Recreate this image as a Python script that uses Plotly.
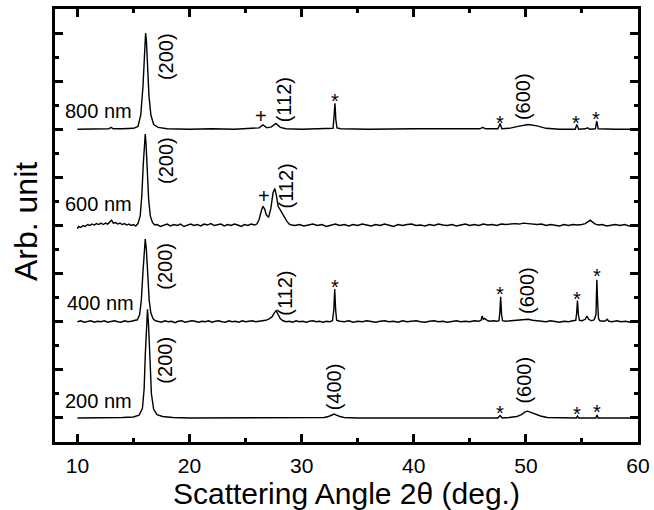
import plotly.graph_objects as go

# ---------------- data ----------------
angle_200 = [10.0, 12.0, 14.0, 15.0, 15.5, 15.8, 15.95, 16.05, 16.15, 16.25,
             16.35, 16.45, 16.6, 16.8, 17.1, 17.6, 18.5, 20.0, 25.0, 30.0,
             32.0, 32.4, 32.7, 32.9, 33.1, 33.4, 33.8, 35.0, 40.0, 45.0,
             47.5, 47.7, 47.8, 47.9, 48.5, 49.2, 49.6, 49.9, 50.15, 50.4,
             50.8, 51.3, 51.9, 53.0, 54.5, 54.6, 54.7, 55.5, 56.25, 56.35,
             56.45, 58.0, 60.0]
int_200 = [0.0, 0.0, 0.01, 0.02, 0.06, 0.2, 0.6, 1.3, 2.0, 2.26,
           1.9, 1.2, 0.5, 0.18, 0.07, 0.03, 0.01, 0.0, 0.0, 0.0,
           0.01, 0.03, 0.07, 0.08, 0.06, 0.03, 0.01, 0.0, 0.0, 0.0,
           0.0, 0.05, 0.01, 0.0, 0.01, 0.03, 0.07, 0.12, 0.14, 0.12,
           0.08, 0.04, 0.01, 0.0, 0.0, 0.04, 0.0, 0.0, 0.0, 0.06,
           0.0, 0.0, 0.0]

angle_400 = [10.0, 10.3, 10.6, 10.9, 11.2, 11.5, 11.8, 12.1, 12.4, 12.7,
             13.0, 13.3, 13.6, 13.9, 14.2, 14.5, 14.8, 15.1, 15.35,
             15.55, 15.7, 15.85, 15.95, 16.05, 16.15, 16.25, 16.4, 16.55, 16.75, 16.95,
             17.2, 17.5, 17.8, 18.1, 18.4, 18.7, 19.0, 19.3, 19.6, 19.9,
             20.2, 20.5, 20.8, 21.1, 21.4, 21.7, 22.0, 22.3, 22.6, 22.9,
             23.2, 23.5, 23.8, 24.1, 24.4, 24.7, 25.0, 25.3, 25.6, 25.9,
             26.2, 26.5, 26.8, 27.1,
             27.35, 27.55, 27.72, 27.9, 28.1, 28.35,
             28.6, 28.9, 29.2, 29.5, 29.8, 30.1, 30.4, 30.7, 31.0, 31.3,
             31.6, 31.9, 32.2, 32.5, 32.75,
             32.87, 32.95, 33.03, 33.12,
             33.4, 33.8, 34.2, 34.6, 35.0, 35.4, 35.8, 36.2, 36.6, 37.0,
             37.4, 37.8, 38.2, 38.6, 39.0, 39.4, 39.8, 40.2, 40.6, 41.0,
             41.4, 41.8, 42.2, 42.6, 43.0, 43.4, 43.8, 44.2, 44.6, 45.0,
             45.4, 45.8,
             46.0, 46.1, 46.2, 46.32, 46.45, 46.6, 46.8, 47.1, 47.4, 47.6,
             47.68, 47.75, 47.83, 47.92,
             48.2, 48.6, 49.0, 49.4, 49.8, 50.2, 50.6, 51.0, 51.4, 51.8,
             52.2, 52.6, 53.0, 53.4, 53.8, 54.2, 54.45,
             54.53, 54.6, 54.68, 54.78,
             55.0, 55.3, 55.45, 55.6, 55.85, 56.1, 56.25,
             56.33, 56.4, 56.48,
             56.6, 56.9, 57.1, 57.25, 57.4, 57.7, 58.1, 58.5, 58.9, 59.3,
             59.7, 60.0]
int_400 = [0.0, 0.02, -0.01, 0.01, 0.02, -0.01, 0.01, 0.0, 0.02, -0.01,
           0.01, 0.02, 0.0, -0.01, 0.02, 0.0, 0.01, 0.02, 0.04,
           0.15, 0.45, 1.05, 1.5, 1.72, 1.5, 1.0, 0.45, 0.18, 0.06, 0.02,
           0.01, -0.01, 0.02, 0.0, 0.01, -0.02, 0.01, 0.02, -0.01, 0.0,
           0.02, 0.01, -0.01, 0.01, 0.0, 0.02, -0.01, 0.01, 0.02, 0.0,
           -0.01, 0.02, 0.0, 0.01, -0.01, 0.02, 0.0, 0.01, 0.02, 0.0,
           0.01, 0.02, 0.03, 0.06,
           0.1, 0.18, 0.23, 0.15, 0.06, 0.02,
           0.0, 0.01, -0.01, 0.02, 0.0, 0.01, -0.01, 0.01, 0.02, 0.0,
           0.01, -0.01, 0.01, 0.0, 0.02,
           0.25, 0.68, 0.25, 0.03,
           0.01, 0.0, 0.02, -0.01, 0.01, 0.0, 0.02, 0.01, -0.01, 0.01,
           0.02, 0.0, 0.01, -0.01, 0.02, 0.0, 0.01, 0.02, 0.0, -0.01,
           0.01, 0.02, 0.0, 0.01, -0.01, 0.01, 0.02, 0.0, 0.01, 0.0,
           0.02, 0.01,
           0.03, 0.12, 0.05, 0.07, 0.04, 0.02, 0.01, 0.02, 0.01, 0.02,
           0.2, 0.52, 0.15, 0.02,
           0.01, 0.02, 0.02, 0.03, 0.05, 0.05, 0.03, 0.02, 0.01, 0.0,
           0.02, 0.01, -0.01, 0.01, 0.0, 0.02, 0.03,
           0.18, 0.44, 0.15, 0.03,
           0.02, 0.05, 0.12, 0.05, 0.02, 0.04, 0.15,
           0.87, 0.4, 0.06,
           0.02, 0.01, 0.02, 0.05, 0.01, 0.0, 0.02, 0.0, 0.01, -0.01,
           0.01, 0.0]

angle_600 = [10.0, 10.1, 10.3, 10.5, 10.7, 10.9, 11.1, 11.3, 11.5, 11.7,
             11.9, 12.1, 12.3, 12.5, 12.7, 12.9, 13.05, 13.2, 13.4, 13.6,
             13.8, 14.0, 14.2, 14.4, 14.6, 14.8, 15.0, 15.2, 15.4,
             15.6, 15.75, 15.88, 15.98, 16.05, 16.12, 16.22, 16.35, 16.5, 16.7, 16.9,
             17.1, 17.4, 17.7, 18.0, 18.3, 18.6, 18.9, 19.2, 19.5, 19.8,
             20.1, 20.4, 20.7, 21.0, 21.3, 21.6, 21.9, 22.2, 22.5, 22.8,
             23.1, 23.4, 23.7, 24.0, 24.3, 24.6, 24.9, 25.2, 25.5, 25.8,
             26.0, 26.2, 26.4, 26.55, 26.7, 26.85, 27.05, 27.25, 27.45, 27.6,
             27.75, 27.9, 28.0, 28.15, 28.3, 28.5, 28.7, 28.9, 29.1,
             29.4, 29.8, 30.2, 30.6, 31.0, 31.4, 31.8, 32.2, 32.6, 33.0,
             33.4, 33.8, 34.2, 34.6, 35.0, 35.4, 35.8, 36.2, 36.6, 37.0,
             37.4, 37.8, 38.2, 38.6, 39.0, 39.4, 39.8, 40.2, 40.6, 41.0,
             41.4, 41.8, 42.2, 42.6, 43.0, 43.4, 43.8, 44.2, 44.6, 45.0,
             45.4, 45.8, 46.2, 46.6, 47.0, 47.4, 47.8, 48.2, 48.6, 49.0,
             49.4, 49.8, 50.2, 50.6, 51.0, 51.4, 51.8, 52.2, 52.6, 53.0,
             53.4, 53.8, 54.2, 54.6, 55.0,
             55.3, 55.55, 55.75, 55.95, 56.2, 56.5,
             56.8, 57.2, 57.6, 58.0, 58.4, 58.8, 59.2, 59.6, 60.0]
int_600 = [-0.07, -0.02, -0.04, 0.0, -0.02, 0.02, 0.0, 0.03, 0.01, 0.04,
           0.02, 0.05, 0.02, 0.05, 0.03, 0.07, 0.11, 0.05, 0.06, 0.03,
           0.05, 0.02, 0.04, 0.01, 0.03, 0.0, 0.02, -0.01, 0.04,
           0.2, 0.65, 1.3, 1.8, 1.9, 1.7, 1.15, 0.55, 0.2, 0.06, 0.01,
           0.02, -0.02, 0.01, 0.03, -0.01, 0.02, 0.0, 0.03, -0.02, 0.01,
           0.03, 0.0, 0.02, -0.01, 0.03, 0.01, 0.04, 0.0, 0.02, 0.03,
           -0.01, 0.02, 0.0, 0.03, 0.01, -0.02, 0.02, 0.0, 0.03, 0.01,
           0.03, 0.12, 0.3, 0.4, 0.34, 0.22, 0.17, 0.35, 0.68, 0.77,
           0.62, 0.4, 0.36, 0.3, 0.24, 0.15, 0.08, 0.03, 0.01,
           0.0, 0.02, -0.01, 0.01, 0.03, 0.0, 0.02, -0.02, 0.01, 0.03,
           0.0, 0.02, -0.01, 0.02, 0.0, 0.03, 0.01, -0.01, 0.02, 0.0,
           0.03, 0.01, -0.02, 0.02, 0.0, 0.02, 0.03, 0.0, 0.01, -0.01,
           0.02, 0.0, 0.03, 0.01, 0.0, 0.02, -0.01, 0.01, 0.03, 0.0,
           0.02, 0.0, 0.03, 0.01, 0.02, 0.0, 0.03, 0.02, 0.03, 0.04,
           0.03, 0.05, 0.04, 0.03, 0.02, 0.03, 0.0, 0.02, 0.01, -0.01,
           0.02, 0.0, 0.02, 0.01, 0.02,
           0.04, 0.08, 0.11, 0.07, 0.03, 0.01,
           0.02, -0.01, 0.01, 0.02, 0.0, 0.02, -0.01, 0.01, 0.0]

angle_800 = [10.0, 11.0, 12.0, 12.8, 13.0, 13.2, 14.0, 15.0, 15.4, 15.65,
             15.85, 15.98, 16.08, 16.15, 16.25, 16.38, 16.55, 16.8, 17.2, 18.0,
             20.0, 22.0, 24.0, 25.5, 26.2, 26.55, 26.9, 27.3, 27.7, 28.1,
             28.6, 30.0, 32.0, 32.8, 32.9, 32.97, 33.05, 33.15, 33.5, 36.0,
             40.0, 44.0, 45.9, 46.15, 46.4, 47.5, 47.7, 47.85, 48.5, 49.3,
             50.2, 51.0, 51.8, 53.0, 54.4, 54.55, 54.7, 55.3, 55.5, 55.7,
             56.2, 56.32, 56.45, 58.0, 60.0]
int_800 = [0.0, 0.0, 0.01, 0.01, 0.04, 0.01, 0.01, 0.02, 0.06, 0.3,
           0.9, 1.6, 2.0, 1.85, 1.3, 0.7, 0.3, 0.1, 0.04, 0.01,
           0.0, 0.01, 0.0, 0.01, 0.03, 0.09, 0.03, 0.05, 0.12, 0.04,
           0.01, 0.0, 0.01, 0.02, 0.3, 0.54, 0.2, 0.03, 0.01, 0.0,
           0.01, 0.0, 0.01, 0.04, 0.01, 0.01, 0.12, 0.01, 0.02, 0.06,
           0.1, 0.07, 0.02, 0.0, 0.0, 0.1, 0.0, 0.01, 0.03, 0.0,
           0.01, 0.17, 0.01, 0.0, 0.0]

thickness_labels = ["200 nm", "400 nm", "600 nm", "800 nm"]
stack_offsets = [0, 2, 4, 6]

# peak labels: text, angle, height (stacked units)
peak_text = ["(200)", "(400)", "*", "(600)", "*", "*",
             "(200)", "(112)", "*", "*", "(600)", "*", "*",
             "(200)", "+", "(112)",
             "(200)", "+", "(112)", "*", "*", "(600)", "*", "*"]
peak_x = [17.85, 32.9, 47.7, 49.8, 54.6, 56.3,
          17.8, 28.5, 32.95, 47.7, 50.1, 54.6, 56.3,
          17.85, 26.6, 28.6,
          17.85, 26.4, 28.5, 32.95, 47.7, 49.7, 54.5, 56.25]
peak_y = [1.2, 0.64, 0.27, 0.79, 0.25, 0.29,
          3.16, 2.6, 2.89, 2.75, 2.64, 2.64, 3.12,
          5.35, 4.62, 4.83,
          7.51, 6.27, 6.62, 6.75, 6.3, 6.68, 6.3, 6.38]

label_x = [11.9, 12.1, 11.9, 11.9]
label_y = [0.35, 2.39, 4.44, 6.37]

x_ticks = [10, 20, 30, 40, 50, 60]
x_title = "Scattering Angle 2θ (deg.)"
y_title = "Arb. unit"

# ---------------- figure ----------------
FONT = "Liberation Sans, Arial, sans-serif"
fig = go.Figure()
series = [(angle_200, int_200), (angle_400, int_400),
          (angle_600, int_600), (angle_800, int_800)]
for (xs, ys), off, name in zip(series, stack_offsets, thickness_labels):
    fig.add_trace(go.Scatter(x=xs, y=[v + off for v in ys], mode="lines",
                             name=name, line=dict(color="black", width=1.4),
                             showlegend=False))

annotations = []
for t, x, y in zip(thickness_labels, label_x, label_y):
    annotations.append(dict(x=x, y=y, text=t, showarrow=False,
                            font=dict(family=FONT, size=20, color="black"),
                            xanchor="center", yanchor="middle"))
for t, x, y in zip(peak_text, peak_x, peak_y):
    rot = -90 if t.startswith("(") else 0
    shift = -8 if t == "*" else 0
    annotations.append(dict(x=x, y=y, text=t, showarrow=False, textangle=rot,
                            yshift=shift,
                            font=dict(family=FONT, size=20, color="black"),
                            xanchor="center", yanchor="middle"))
# axis titles
annotations.append(dict(xref="paper", yref="paper", x=0.5, y=-0.12,
                        text=x_title, showarrow=False, borderpad=0,
                        font=dict(family=FONT, size=30, color="black"),
                        xanchor="center", yanchor="middle"))
annotations.append(dict(xref="paper", yref="paper", x=-0.05, y=0.51,
                        text=y_title, showarrow=False, textangle=-90,
                        font=dict(family=FONT, size=32, color="black"),
                        xanchor="center", yanchor="middle"))

fig.update_layout(
    width=654, height=510,
    margin=dict(l=55, r=16, t=9, b=68),
    paper_bgcolor="white", plot_bgcolor="white",
    font=dict(family=FONT, color="black"),
    annotations=annotations,
    xaxis=dict(range=[8, 60], tickvals=x_ticks, ticks="inside", ticklen=8,
               tickwidth=2.5, tickcolor="black", showline=True, linewidth=2.5,
               linecolor="black", mirror="ticks", showgrid=False, zeroline=False,
               automargin=False, ticklabelstandoff=3,
               tickfont=dict(family=FONT, size=21, color="black"),
               minor=dict(dtick=5, tick0=0, ticks="inside", ticklen=4,
                          tickwidth=2.5, tickcolor="black", showgrid=False)),
    yaxis=dict(range=[-0.5, 8.5], dtick=1, tick0=0, ticks="inside", ticklen=8,
               tickwidth=2.5, tickcolor="black", showline=True, linewidth=2.5,
               linecolor="black", mirror="ticks", showgrid=False, zeroline=False,
               showticklabels=False, automargin=False,
               minor=dict(dtick=0.5, tick0=0, ticks="inside", ticklen=4,
                          tickwidth=2.5, tickcolor="black", showgrid=False)),
)

fig.write_html("out.html", config={"displayModeBar": False},
               post_script="document.body.style.margin='0';"
                           "document.body.style.padding='0';")
